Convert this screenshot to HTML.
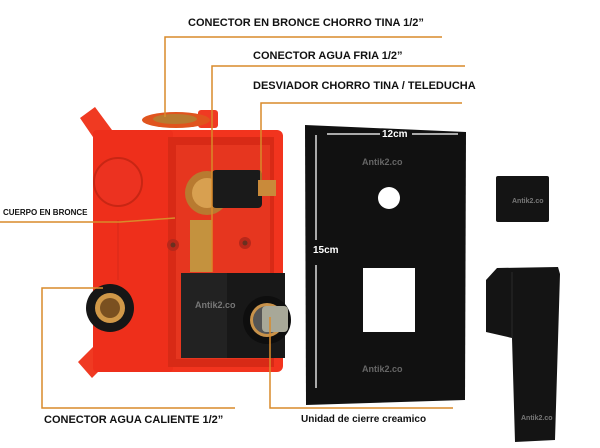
<!DOCTYPE html>
<html><head><style>
body{margin:0;width:600px;height:448px;background:#fff;position:relative;overflow:hidden;font-family:"Liberation Sans",sans-serif}
.t{position:absolute;font-weight:bold;color:#111;white-space:nowrap}
</style></head><body>
<svg width="600" height="448" style="position:absolute;left:0;top:0">
<!-- ears -->
<polygon points="80,118 95,107 112,130 95,140" fill="#f03a22"/>
<polygon points="78,362 95,345 110,360 92,378" fill="#f03a22"/>
<rect x="198" y="110" width="20" height="18" rx="3" fill="#f03a22"/>
<!-- box -->
<rect x="93" y="130" width="190" height="242" rx="6" fill="#f2341e"/>
<rect x="93" y="130" width="80" height="242" rx="4" fill="#ee2f1b"/>
<rect x="168" y="137" width="106" height="230" fill="#d82a16"/>
<rect x="176" y="145" width="94" height="214" fill="#e6361f"/>
<circle cx="118" cy="182" r="24" fill="#ec3220" stroke="#c82614" stroke-width="2"/>
<line x1="118" y1="220" x2="118" y2="280" stroke="#d52a18" stroke-width="1"/>
<circle cx="173" cy="245" r="6" fill="#b8281a"/><circle cx="173" cy="245" r="2.5" fill="#6a3020"/>
<circle cx="245" cy="243" r="6" fill="#b8281a"/><circle cx="245" cy="243" r="2.5" fill="#6a3020"/>
<!-- top brass connector -->
<ellipse cx="176" cy="120" rx="34" ry="8" fill="#e0541e"/>
<ellipse cx="175" cy="119" rx="22" ry="5" fill="#b87a30"/>
<!-- brass body -->
<rect x="190" y="220" width="22" height="52" fill="#c4923e"/>
<circle cx="207" cy="193" r="22" fill="#b87a30"/>
<circle cx="207" cy="193" r="15" fill="#d8a050"/>
<rect x="212" y="170" width="50" height="38" rx="4" fill="#1a1a1a"/>
<rect x="258" y="180" width="18" height="16" fill="#c98a3a"/>
<!-- left connector -->
<circle cx="110" cy="308" r="24" fill="#161616"/>
<circle cx="110" cy="308" r="15" fill="#d09848"/>
<circle cx="110" cy="308" r="10" fill="#7a5020"/>
<!-- cartridge -->
<rect x="181" y="273" width="104" height="85" fill="#181818"/>
<rect x="181" y="273" width="46" height="85" fill="#222"/>
<circle cx="267" cy="320" r="24" fill="#0e0e0e"/>
<circle cx="267" cy="320" r="17" fill="#c8924a"/>
<circle cx="267" cy="320" r="14" fill="#555"/>
<rect x="262" y="306" width="26" height="26" rx="4" fill="#a8a898"/>
<!-- plate -->
<polygon points="305,125 466,132 465,400 306,405" fill="#111"/>
<circle cx="389" cy="198" r="11" fill="#fff"/>
<rect x="363" y="268" width="52" height="64" fill="#fff"/>
<line x1="327" y1="134" x2="380" y2="134" stroke="#ddd" stroke-width="1.5"/>
<line x1="412" y1="134" x2="458" y2="134" stroke="#ddd" stroke-width="1.5"/>
<line x1="316" y1="135" x2="316" y2="240" stroke="#ddd" stroke-width="1.5"/>
<line x1="316" y1="265" x2="316" y2="388" stroke="#ddd" stroke-width="1.5"/>
<!-- cube -->
<rect x="496" y="176" width="53" height="46" rx="2" fill="#141414"/>
<!-- lever -->
<polygon points="486,280 497,268 558,267 560,274 555,440 515,442 512,338 486,332" fill="#141414"/>
<line x1="512" y1="272" x2="512" y2="338" stroke="#2a2a2a" stroke-width="1"/>
<!-- leader lines -->
<g stroke="#d98a2a" stroke-width="1.5" fill="none">
<polyline points="442,37 165,37 165,117"/>
<polyline points="465,66 212,66 212,272"/>
<polyline points="462,103 261,103 261,180"/>
<polyline points="0,222 120,222 175,218"/>
<polyline points="103,288 42,288 42,408 235,408"/>
<polyline points="270,317 270,408 453,408"/>
</g>
</svg>
<div class="t" style="left:188px;top:17px;font-size:11px">CONECTOR EN BRONCE CHORRO TINA 1/2”</div>
<div class="t" style="left:253px;top:50px;font-size:11px">CONECTOR AGUA FRIA 1/2”</div>
<div class="t" style="left:253px;top:80px;font-size:11px">DESVIADOR CHORRO TINA / TELEDUCHA</div>
<div class="t" style="left:3px;top:208px;font-size:8px">CUERPO EN BRONCE</div>
<div class="t" style="left:44px;top:414px;font-size:11px">CONECTOR AGUA CALIENTE 1/2”</div>
<div class="t" style="left:301px;top:414px;font-size:10px">Unidad de cierre creamico</div>
<div class="t" style="left:382px;top:129px;font-size:10px;color:#fff">12cm</div>
<div class="t" style="left:313px;top:245px;font-size:10px;color:#fff">15cm</div>
<div class="t" style="left:362px;top:157px;font-size:9px;color:#666">Antik2.co</div>
<div class="t" style="left:195px;top:300px;font-size:9px;color:#777">Antik2.co</div>
<div class="t" style="left:362px;top:364px;font-size:9px;color:#666">Antik2.co</div>
<div class="t" style="left:512px;top:198px;font-size:7px;color:#777">Antik2.co</div>
<div class="t" style="left:521px;top:415px;font-size:7px;color:#777">Antik2.co</div>
</body></html>
